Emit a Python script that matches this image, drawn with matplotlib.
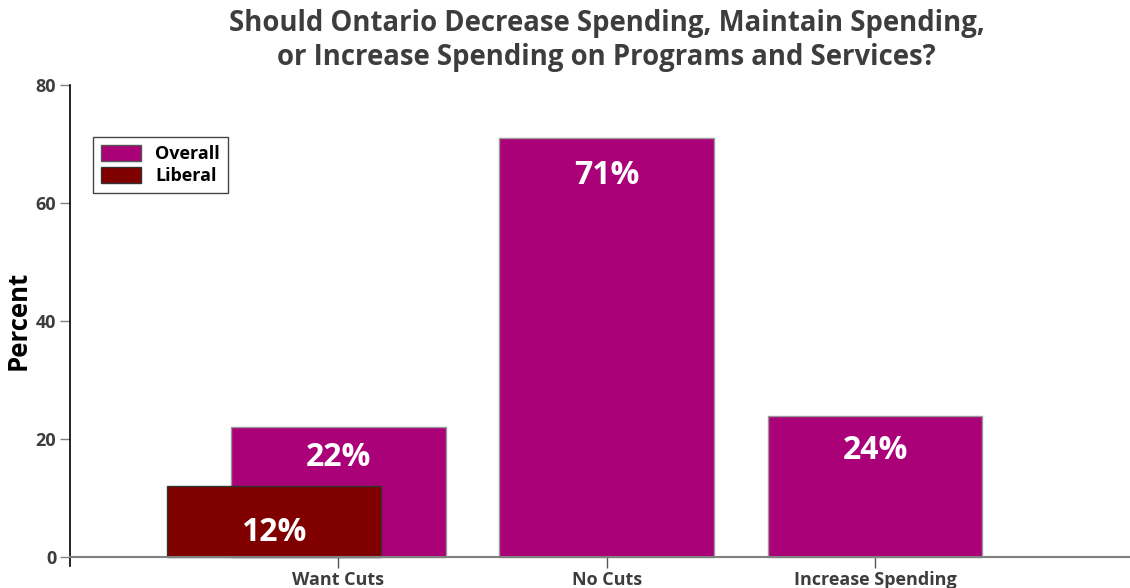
import matplotlib
matplotlib.use("Agg")
import matplotlib.pyplot as plt
from matplotlib.patches import Patch

plt.rcParams["font.family"] = ["Open Sans", "DejaVu Sans"]

categories = ["Want Cuts", "No Cuts", "Increase Spending"]
overall    = [22, 71, 24]
liberal    = [12]          # only reported for "Want Cuts"
overall_lbl_pos = [16.9, 64.7, 18.1]
liberal_lbl_pos = [4.2]

OVERALL_C = "#aa0078"
LIBERAL_C = "#800000"
TEXT_C    = "#3d3d3d"

fig = plt.figure(figsize=(11.3, 5.88), dpi=100, facecolor="white")
ax = fig.add_axes([0.062, 0.0374, 0.938, 0.818])

x = list(range(len(categories)))
ax.bar(x, overall, width=0.8, color=OVERALL_C, edgecolor="#999999", linewidth=1, zorder=2)
ax.bar([x[0] - 0.24], liberal, width=0.8, color=LIBERAL_C, edgecolor="#333333", linewidth=1, zorder=3)

for xi, v, yp in zip(x, overall, overall_lbl_pos):
    ax.text(xi, yp, f"{v}%", ha="center", va="center", color="white",
            fontsize=23, fontweight="bold", zorder=4)
ax.text(x[0] - 0.24, liberal_lbl_pos[0], f"{liberal[0]}%", ha="center", va="center",
        color="white", fontsize=23, fontweight="bold", zorder=4)

ax.set_xlim(-1.0, 2.95)
ax.set_ylim(-1.5, 80)
ax.set_yticks([0, 20, 40, 60, 80])
ax.set_xticks(x)
ax.set_xticklabels(categories)

for s in ("top", "right"):
    ax.spines[s].set_visible(False)
ax.spines["left"].set_color("black")
ax.spines["left"].set_linewidth(1.2)
ax.spines["bottom"].set_position(("data", 0))
ax.spines["bottom"].set_color("#808080")
ax.spines["bottom"].set_linewidth(1.5)
ax.spines["bottom"].set_zorder(5)

ax.tick_params(axis="y", length=7, width=1, color="#808080", labelsize=13,
               labelcolor=TEXT_C, pad=3)
ax.tick_params(axis="x", length=8, width=1, color="#555555", labelsize=13,
               labelcolor=TEXT_C, pad=2)
for lbl in ax.get_xticklabels() + ax.get_yticklabels():
    lbl.set_fontweight("bold")

ax.set_ylabel("Percent", fontsize=18.5, fontweight="bold", color="black")
ax.yaxis.set_label_coords(-0.036, 0.51)

handles = [Patch(facecolor=OVERALL_C, edgecolor="#555555", label="Overall"),
           Patch(facecolor=LIBERAL_C, edgecolor="#333333", label="Liberal")]
leg = ax.legend(handles=handles, loc="upper left", bbox_to_anchor=(0.0217, 0.892),
                borderaxespad=0, fancybox=False, edgecolor="#444444", framealpha=1,
                prop={"weight": "bold", "size": 13}, handlelength=2.2,
                handleheight=1.0, borderpad=0.45, labelspacing=0.2, handletextpad=0.8)
leg.get_frame().set_linewidth(1)

fig.text(0.537, 0.985, "Should Ontario Decrease Spending, Maintain Spending,\n"
         "or Increase Spending on Programs and Services?",
         ha="center", va="top", fontsize=19.8, fontweight="bold", color=TEXT_C,
         linespacing=1.25)

fig.savefig("out.png", dpi=100, facecolor="white")
